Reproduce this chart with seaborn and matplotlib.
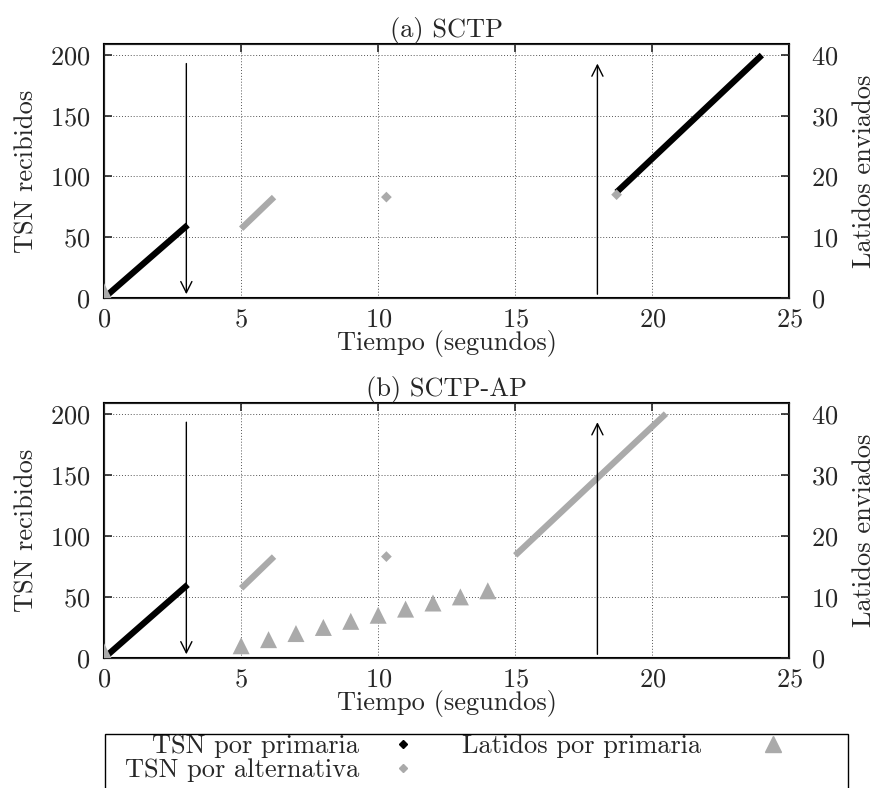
import matplotlib
matplotlib.use("Agg")
import matplotlib.pyplot as plt
import seaborn as sns
from matplotlib.lines import Line2D
from matplotlib.patches import Rectangle

# (a) SCTP -- segments of TSN received (start, end)
a_prim_t = [[0, 3.05], [18.7, 24.0]]
a_prim_tsn = [[0, 60], [87, 200]]
a_alt_t = [[5.0, 6.2]]
a_alt_tsn = [[57, 83]]
a_alt_pts_t = [10.3, 18.7]
a_alt_pts_tsn = [83, 85]
a_hb_t = [0]
a_hb = [1]

# (b) SCTP-AP
b_prim_t = [[0, 3.05]]
b_prim_tsn = [[0, 60]]
b_alt_t = [[5.0, 6.2], [15.0, 20.5]]
b_alt_tsn = [[57, 83], [84, 200]]
b_alt_pts_t = [10.3]
b_alt_pts_tsn = [83]
b_hb_t = [0, 5, 6, 7, 8, 9, 10, 11, 12, 13, 14]
b_hb = [1, 2, 3, 4, 5, 6, 7, 8, 9, 10, 11]

# failure / recovery events (time, from, to)
arrows = [(3, 193, 3), (18, 3, 193)]

x_ticks = [0, 5, 10, 15, 20, 25]
y_ticks = [0, 50, 100, 150, 200]
y2_ticks = [0, 10, 20, 30, 40]

sns.set_style("white")
plt.rcParams["font.family"] = ["cmr10", "DejaVu Serif"]
plt.rcParams["axes.formatter.use_mathtext"] = True
plt.rcParams["font.size"] = 19

GRAY = "#aaaaaa"

fig = plt.figure(figsize=(8.75, 7.88), dpi=100)


def panel(rect, title, prim_t, prim_tsn, alt_t, alt_tsn, pts_t, pts_tsn, hb_t, hb):
    ax = fig.add_axes(rect)
    for t, v in zip(prim_t, prim_tsn):
        sns.lineplot(x=t, y=v, ax=ax, color="black", lw=4.5, solid_capstyle="butt", zorder=3)
    for t, v in zip(alt_t, alt_tsn):
        sns.lineplot(x=t, y=v, ax=ax, color=GRAY, lw=4.5, solid_capstyle="butt", zorder=3)
    sns.scatterplot(x=pts_t, y=pts_tsn, ax=ax, color=GRAY, marker="D", s=30,
                    edgecolor="none", zorder=3)
    for t, y0, y1 in arrows:
        ax.annotate("", xy=(t, y1), xytext=(t, y0),
                    arrowprops=dict(arrowstyle="->", color="black", lw=1.0,
                                    mutation_scale=20, shrinkA=0, shrinkB=0))
    ax.set_xlim(0, 25)
    ax.set_ylim(0, 209)
    ax.set_xticks(x_ticks)
    ax.set_yticks(y_ticks)
    ax.grid(True, color="#555555", linestyle=(0, (1, 2)), linewidth=0.7)
    ax.tick_params(direction="in", length=6, width=1.2, top=True)
    ax.tick_params(axis="x", pad=7)
    ax.tick_params(axis="y", left=True, right=False, pad=10)
    for s in ax.spines.values():
        s.set_linewidth(1.5)
        s.set_color("black")
    ax.set_xlabel("Tiempo (segundos)", labelpad=-1)
    ax.set_ylabel("TSN recibidos", labelpad=8)
    ax.set_title(title, fontsize=19, pad=5)

    ax2 = ax.twinx()
    sns.scatterplot(x=hb_t, y=hb, ax=ax2, color=GRAY, marker="^", s=150,
                    edgecolor="none", zorder=4)
    ax2.set_ylim(0, 41.8)
    ax2.set_yticks(y2_ticks)
    ax2.tick_params(direction="in", length=6, width=1.2, pad=16)
    ax2.set_ylabel("Latidos enviados", labelpad=10)
    ax2.grid(False)
    return ax


panel([0.119, 0.622, 0.783, 0.322], "(a) SCTP", a_prim_t, a_prim_tsn, a_alt_t, a_alt_tsn,
      a_alt_pts_t, a_alt_pts_tsn, a_hb_t, a_hb)
panel([0.119, 0.165, 0.783, 0.324], "(b) SCTP-AP", b_prim_t, b_prim_tsn, b_alt_t, b_alt_tsn,
      b_alt_pts_t, b_alt_pts_tsn, b_hb_t, b_hb)

handles = [
    Line2D([], [], color="black", marker="D", markersize=4, linestyle="none"),
    Line2D([], [], color=GRAY, marker="D", markersize=4, linestyle="none"),
    Line2D([], [], color=GRAY, marker="^", markersize=12, linestyle="none"),
]
labels = ["TSN por primaria", "TSN por alternativa", "Latidos por primaria"]
leg = fig.legend(handles, labels, loc="upper left", bbox_to_anchor=(0.143, 0.068),
                 ncol=2, markerfirst=False, frameon=False, borderpad=0.0,
                 labelspacing=0.0, handlelength=1.0, handletextpad=1.15,
                 columnspacing=1.75, borderaxespad=0, fontsize=19)
# gnuplot keeps equal-width key columns: push the second marker further right
for item in leg._legend_handle_box.get_children()[1].get_children():
    item.sep += 20

# key box (runs off the bottom edge like the original)
fig.patches.append(Rectangle((105 / 875, -0.05), (848 - 105) / 875, 0.05 + (788 - 734) / 788,
                             transform=fig.transFigure, fill=False, edgecolor="black",
                             linewidth=1.0))

fig.savefig("out.png", dpi=100)
